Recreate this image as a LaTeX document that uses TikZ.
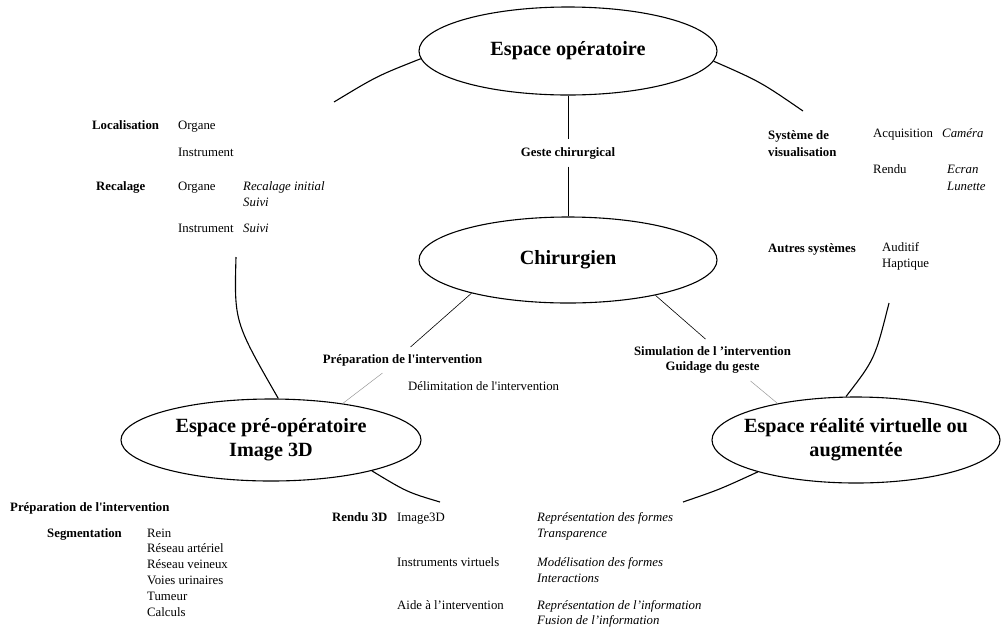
\documentclass[tikz,border=0pt]{standalone}
\usepackage{fontspec}
\setmainfont{Liberation Serif}
\usetikzlibrary{shapes.geometric}
\newcommand\sq{\textquotesingle}
\begin{document}
\begin{tikzpicture}[x=1pt,y=-1pt,
  space/.style={ellipse, draw, line width=1.1pt, inner sep=0pt},
  bigtext/.style={font=\fontsize{20.2}{24}\selectfont\bfseries, align=center, inner sep=0pt},
  txt/.style={anchor=base west, inner sep=0pt, font=\fontsize{12.8}{15.8}\selectfont},
  btxt/.style={txt, font=\fontsize{12.8}{15.8}\selectfont\bfseries},
  itxt/.style={txt, font=\fontsize{12.8}{15.8}\selectfont\itshape},
  clabel/.style={font=\fontsize{12.8}{15.8}\selectfont\bfseries, align=center, inner sep=7pt},
  arcline/.style={line width=1.1pt},
  thinline/.style={line width=0.6pt},
  faint/.style={line width=0.5pt, black!40}]
\useasboundingbox (0,0) rectangle (1003,630);

% spaces
\node[space, minimum width=298pt, minimum height=88pt,
  label={[bigtext]center:Espace opératoire}] (op) at (568,51) {};
\node[space, minimum width=298pt, minimum height=86pt,
  label={[bigtext]center:Chirurgien}] (chir) at (568,260) {};
\node[space, minimum width=300pt, minimum height=82pt,
  label={[bigtext]center:{Espace pré-opératoire\\Image 3D}}] (preop) at (271,440) {};
\node[space, minimum width=288pt, minimum height=86pt,
  label={[bigtext]center:{Espace réalité virtuelle ou\\augmentée}}] (vr) at (856,440) {};

% central labels
\node[font=\fontsize{12.8}{15.8}\selectfont\bfseries, inner sep=0pt, minimum height=27pt] (geste) at (568,153) {Geste chirurgical};
\node[clabel] (prepl) at (402.5,360) {Préparation de l\sq intervention};
\node[clabel] (sim) at (712.5,360) {Simulation de l ’intervention\\Guidage du geste};
\node[txt] (delim) at (408,390) {Délimitation de l\sq intervention};

% connectors
\draw[line width=0.9pt] (op.south) -- (geste.north);
\draw[line width=0.9pt] (geste.south) -- (chir.north);
\draw[thinline] (chir.199.3) -- ([xshift=8pt]prepl.north);
\draw[faint] ([xshift=-20pt]prepl.south) -- (preop.27);
\draw[thinline] (chir.338.75) -- ([xshift=-7pt]sim.north);
\draw[faint] ([xshift=38pt]sim.south) -- (vr.155);

% outer arcs
\coordinate (tl) at (334,102);
\coordinate (tr) at (803,111);
\coordinate (lt) at (236,257);
\coordinate (rt) at (889,303);
\coordinate (bl) at (440,502);
\coordinate (br) at (683,502);
\draw[arcline] (op.183) .. controls (377,76) .. (tl);
\draw[arcline] (op.-4) .. controls (760.5,81.8) .. (tr);
\draw[arcline] (lt) .. controls (234.2,321.7) .. (preop.80);
\draw[arcline] (rt) .. controls (874.8,359.2) .. (vr.103);
\draw[arcline] (preop.-17) .. controls (407.2,492.2) .. (bl);
\draw[arcline] (br) .. controls (719,489.7) .. (vr.198);

% left block
\node[btxt] (loc) at (92,129) {Localisation};
\node[txt] (loc1) at (178,129) {Organe};
\node[txt] (loc2) at (178,156) {Instrument};
\node[btxt] (rec) at (96,190) {Recalage};
\node[txt] (rec1) at (178,190) {Organe};
\node[itxt] (rec1a) at (243,190) {Recalage initial};
\node[itxt] (rec1b) at (243,206) {Suivi};
\node[txt] (rec2) at (178,232) {Instrument};
\node[itxt] (rec2a) at (243,232) {Suivi};

% right block
\node[btxt] (sys) at (768,139) {Système de};
\node[btxt] (sys2) at (768,156) {visualisation};
\node[txt] (acq) at (873,137) {Acquisition};
\node[itxt] (cam) at (942,137) {Caméra};
\node[txt] (ren) at (873,173) {Rendu};
\node[itxt] (ecr) at (947,173) {Ecran};
\node[itxt] (lun) at (947,190) {Lunette};
\node[btxt] (aut) at (768,252) {Autres systèmes};
\node[txt] (aud) at (882,251) {Auditif};
\node[txt] (hap) at (882,267) {Haptique};

% bottom left block
\node[btxt] (prep2) at (10,511) {Préparation de l\sq intervention};
\node[btxt] (seg) at (47,537) {Segmentation};
\node[txt] (s1) at (147,537) {Rein};
\node[txt] (s2) at (147,552.5) {Réseau artériel};
\node[txt] (s3) at (147,568.5) {Réseau veineux};
\node[txt] (s4) at (147,584) {Voies urinaires};
\node[txt] (s5) at (147,600) {Tumeur};
\node[txt] (s6) at (147,616) {Calculs};

% bottom middle block
\node[btxt] (r3d) at (332,521) {Rendu 3D};
\node[txt] (img) at (397,521) {Image3D};
\node[itxt] (img1) at (537,521) {Représentation des formes};
\node[itxt] (img2) at (537,537) {Transparence};
\node[txt] (ins) at (397,566) {Instruments virtuels};
\node[itxt] (ins1) at (537,566) {Modélisation des formes};
\node[itxt] (ins2) at (537,582) {Interactions};
\node[txt] (aide) at (397,609) {Aide à l’intervention};
\node[itxt] (aide1) at (537,609) {Représentation de l’information};
\node[itxt] (aide2) at (537,624) {Fusion de l’information};
\end{tikzpicture}
\end{document}
